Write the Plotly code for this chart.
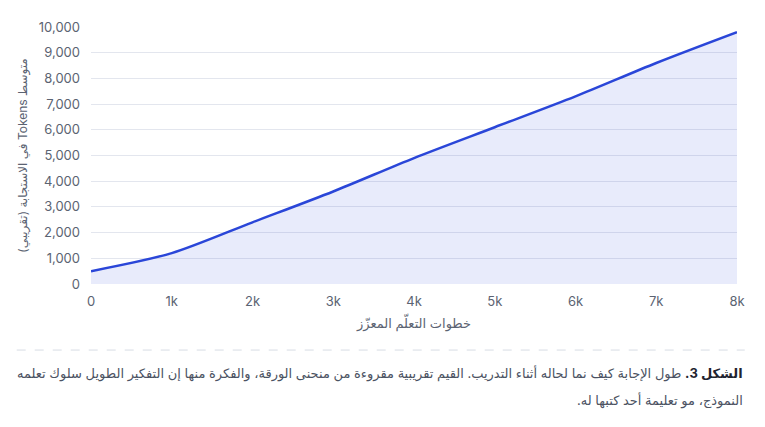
import plotly.graph_objects as go

# البيانات (قيم تقريبية مقروءة من المنحنى)
steps = [0, 1000, 2000, 3000, 4000, 5000, 6000, 7000, 8000]
avg_tokens = [500, 1200, 2400, 3600, 4900, 6100, 7300, 8600, 9800]

x_tickvals = [0, 1000, 2000, 3000, 4000, 5000, 6000, 7000, 8000]
x_ticktext = ["0", "1k", "2k", "3k", "4k", "5k", "6k", "7k", "8k"]

RLE, PDF, RLM = "\u202b", "\u202c", "\u200f"

y_title = "متوسط Tokens في الاستجابة (تقريبي)"
x_title = "خطوات التعلّم المعزّز"
caption_1 = ("<b>الشكل 3.</b>", "طول الإجابة كيف نما لحاله أثناء التدريب. القيم تقريبية مقروءة من منحنى الورقة، والفكرة منها إن التفكير الطويل سلوك تعلمه")
caption_2 = "النموذج، مو تعليمة أحد كتبها له."

line_color = "#2a46d8"
font_family = "Inter, 'Noto Sans', 'DejaVu Sans', sans-serif"

fig = go.Figure()
fig.add_trace(
    go.Scatter(
        x=steps,
        y=avg_tokens,
        mode="lines",
        line=dict(color=line_color, width=2.5, shape="spline", smoothing=0.8),
        fill="tozeroy",
        fillcolor="rgba(42,70,216,0.11)",
        showlegend=False,
        hoverinfo="skip",
    )
)

# الصفحة فيها هامش 8px، فالشكل أصغر بـ 16px
fig.update_layout(
    width=749,
    height=411,
    margin=dict(l=83, r=20, t=19, b=135),
    paper_bgcolor="white",
    plot_bgcolor="white",
    font=dict(family=font_family, size=13, color="#5b6372"),
    xaxis=dict(
        range=[0, 8000],
        tickvals=x_tickvals,
        ticktext=x_ticktext,
        showgrid=False,
        zeroline=False,
        showline=False,
        ticks="",
        ticklabelstandoff=8,
        title=dict(text=RLE + x_title + PDF, standoff=10, font=dict(size=13, color="#5b6372")),
    ),
    yaxis=dict(
        range=[0, 10000],
        dtick=1000,
        tickformat=",d",
        gridcolor="#e3e6ee",
        gridwidth=1,
        zeroline=False,
        showline=False,
        ticks="",
        ticklabelstandoff=10,
        title=dict(text=RLE + y_title + PDF, standoff=8, font=dict(size=12, color="#5b6372")),
    ),
)

# خط منقط فاصل
fig.add_shape(
    type="line", xref="paper", yref="paper",
    x0=-0.115, x1=1.012, y0=-0.257, y1=-0.257,
    line=dict(color="#d8dce4", width=1, dash="dash"),
)

# نص الشرح
fig.add_annotation(
    xref="paper", yref="paper", x=1.012, y=-0.347,
    xanchor="right", yanchor="middle", showarrow=False, align="right",
    text=RLM + "<span style='color:#1f2430'>" + caption_1[0] + "</span> " + caption_1[1] + RLM,
    font=dict(size=13, color="#4b5262"),
)
fig.add_annotation(
    xref="paper", yref="paper", x=1.012, y=-0.452,
    xanchor="right", yanchor="middle", showarrow=False, align="right",
    text=RLM + caption_2 + RLM,
    font=dict(size=13, color="#4b5262"),
)

fig.write_html("out.html")
